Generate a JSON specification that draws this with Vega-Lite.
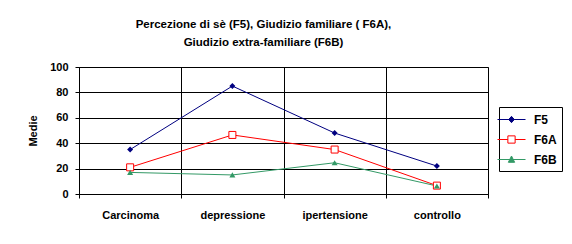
{
  "$schema": "https://vega.github.io/schema/vega-lite/v6.json",
  "width": 409,
  "height": 127,
  "autosize": {"type": "none"},
  "padding": {"left": 79, "top": 67, "right": 84, "bottom": 50},
  "background": "white",
  "title": {
    "text": ["Percezione di sè (F5), Giudizio familiare ( F6A),", "Giudizio extra-familiare (F6B)"],
    "anchor": "middle",
    "frame": "group",
    "dx": -20,
    "offset": 13,
    "font": "Liberation Sans",
    "fontSize": 11.5,
    "fontWeight": "bold",
    "lineHeight": 18,
    "color": "black"
  },
  "data": {
    "values": [
      {"gruppo": "Carcinoma", "serie": "F5", "media": 35},
      {"gruppo": "depressione", "serie": "F5", "media": 85},
      {"gruppo": "ipertensione", "serie": "F5", "media": 48},
      {"gruppo": "controllo", "serie": "F5", "media": 22},
      {"gruppo": "Carcinoma", "serie": "F6A", "media": 21},
      {"gruppo": "depressione", "serie": "F6A", "media": 46.5},
      {"gruppo": "ipertensione", "serie": "F6A", "media": 35},
      {"gruppo": "controllo", "serie": "F6A", "media": 6.6},
      {"gruppo": "Carcinoma", "serie": "F6B", "media": 17},
      {"gruppo": "depressione", "serie": "F6B", "media": 15},
      {"gruppo": "ipertensione", "serie": "F6B", "media": 24.6},
      {"gruppo": "controllo", "serie": "F6B", "media": 6.3}
    ]
  },
  "encoding": {
    "x": {
      "field": "gruppo",
      "type": "nominal",
      "scale": {"domain": ["Carcinoma", "depressione", "ipertensione", "controllo"], "paddingInner": 0, "paddingOuter": 0},
      "axis": {
        "title": null,
        "tickBand": "extent",
        "grid": true,
        "gridColor": "black",
        "gridOpacity": 1,
        "domainColor": "black",
        "tickColor": "black",
        "tickSize": 4,
        "labelAngle": 0,
        "labelPadding": 11,
        "labelFont": "Liberation Sans",
        "labelFontSize": 11,
        "labelFontWeight": "bold",
        "labelColor": "black"
      }
    },
    "y": {
      "field": "media",
      "type": "quantitative",
      "scale": {"domain": [0, 100], "nice": false},
      "axis": {
        "values": [0, 20, 40, 60, 80, 100],
        "title": "Medie",
        "titleFont": "Liberation Sans",
        "titleFontSize": 11,
        "titleFontWeight": "bold",
        "titleColor": "black",
        "titleAngle": -90,
        "titleX": -46,
        "titleY": 63.5,
        "titleAlign": "center",
        "titleBaseline": "middle",
        "grid": true,
        "gridColor": "black",
        "gridOpacity": 1,
        "domainColor": "black",
        "tickColor": "black",
        "tickSize": 4,
        "labelPadding": 7,
        "labelFont": "Liberation Sans",
        "labelFontSize": 11,
        "labelFontWeight": "bold",
        "labelColor": "black"
      }
    }
  },
  "layer": [
    {
      "mark": {"type": "line", "strokeWidth": 1},
      "encoding": {
        "stroke": {
          "field": "serie",
          "type": "nominal",
          "scale": {"domain": ["F5", "F6A", "F6B"], "range": ["#000080", "#FF0000", "#339966"]}
        }
      }
    },
    {
      "transform": [{"filter": "datum.serie === 'F5'"}],
      "mark": {"type": "point", "shape": "diamond", "size": 36, "filled": true, "color": "#000080", "opacity": 1}
    },
    {
      "transform": [{"filter": "datum.serie === 'F6A'"}],
      "mark": {"type": "point", "shape": "square", "size": 49, "fill": "white", "stroke": "#FF0000", "strokeWidth": 1, "opacity": 1}
    },
    {
      "transform": [{"filter": "datum.serie === 'F6B'"}],
      "mark": {"type": "point", "shape": "triangle-up", "size": 36, "filled": true, "color": "#339966", "opacity": 1}
    },
    {
      "mark": {"type": "point", "fillOpacity": 0, "strokeOpacity": 0, "strokeWidth": 1},
      "encoding": {
        "shape": {
          "field": "serie",
          "type": "nominal",
          "scale": {
            "domain": ["F5", "F6A", "F6B"],
            "range": [
              "M-2,0L2,0M0,-0.45L0.4,0L0,0.45L-0.4,0Z",
              "M-2,0L-0.52,0M0.52,0L2,0M-0.52,-0.52L0.52,-0.52L0.52,0.52L-0.52,0.52Z",
              "M-2,0L2,0M0,-0.5L0.45,0.4L-0.45,0.4Z"
            ]
          }
        },
        "stroke": {"field": "serie", "type": "nominal"},
        "fill": {
          "field": "serie",
          "type": "nominal",
          "scale": {"domain": ["F5", "F6A", "F6B"], "range": ["#000080", "#FFFFFF", "#339966"]}
        }
      }
    }
  ],
  "config": {
    "view": {"stroke": "#808080", "strokeWidth": 1},
    "legend": {
      "title": null,
      "orient": "none",
      "legendX": 420,
      "legendY": 40,
      "padding": 5,
      "strokeColor": "black",
      "fillColor": "white",
      "symbolSize": 196,
      "symbolStrokeWidth": 1,
      "symbolOpacity": 1,
      "rowPadding": 6,
      "labelOffset": 15,
      "labelFont": "Liberation Sans",
      "labelFontSize": 12,
      "labelFontWeight": "bold",
      "labelColor": "black"
    }
  }
}
